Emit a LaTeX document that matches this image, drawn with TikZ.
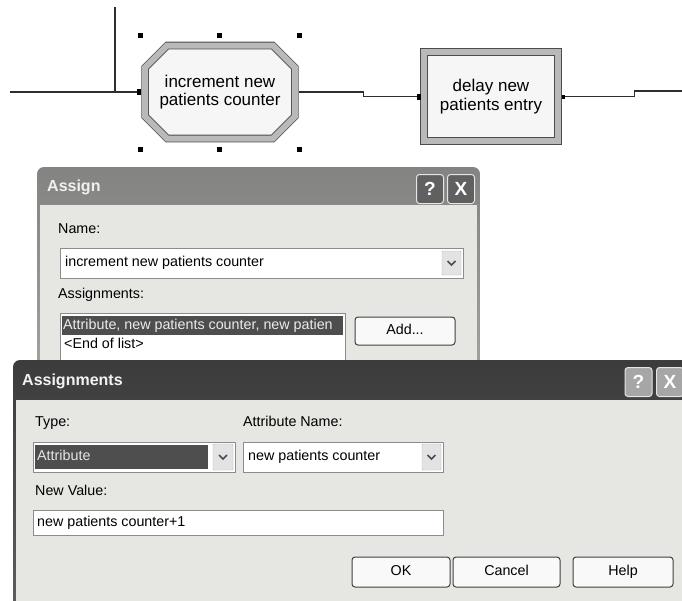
\documentclass[tikz,border=0pt]{standalone}
\usepackage{fontspec}
\setmainfont{Liberation Sans}
\usetikzlibrary{shapes.misc,positioning}
\definecolor{dlgbody}{HTML}{E6E6E2}
\definecolor{dlgedge}{HTML}{8C8C8C}
\definecolor{barlight}{HTML}{A4A4A2}
\definecolor{bardark}{HTML}{464646}
\definecolor{selfill}{HTML}{4E4E4E}
\definecolor{wirecol}{HTML}{2E2E2E}

\tikzset{
  module/.style={draw=black!70, line width=0.8pt, double=gray!55, double distance=6pt,
    fill=white!93!gray, align=center, font=\fontsize{17}{18.5}\selectfont},
  flow/.style={draw=wirecol, line width=1.3pt},
  port/.style={fill=black, inner sep=0pt, minimum width=4pt, minimum height=6pt},
  txt/.style={anchor=west, inner sep=0pt, text height=10.5pt, text depth=3pt,
    font=\fontsize{14.3}{16}\selectfont},
  field/.style={fill=white, draw=dlgedge, line width=0.8pt},
  dropbtn/.style={fill=gray!22, draw=gray!55, rounded corners=1pt},
  btn/.style={draw=black!75, line width=1pt, rounded corners=3pt, fill=white!95!gray,
    text height=10.5pt, text depth=3pt, font=\fontsize{14.3}{16}\selectfont},
  capbtn/.style={draw=white!80!gray, line width=1pt, rounded corners=3pt, fill=gray!75!black,
    text=white, minimum width=27pt, minimum height=29pt, inner sep=0pt,
    font=\bfseries\fontsize{19}{20}\selectfont},
  title/.style={anchor=west, inner sep=0pt, font=\bfseries\fontsize{16}{18}\selectfont}
}

\begin{document}
\begin{tikzpicture}[x=1pt,y=-1pt]
\useasboundingbox (0,0) rectangle (682,600);
\clip (0,0) rectangle (682,600);
\fill[white] (0,0) rectangle (682,600);

% flowchart modules
\node[module, chamfered rectangle, chamfered rectangle sep=11pt,
  minimum width=138pt, minimum height=93pt] (mod1) at (220,92) {increment new\\patients counter};
\node[module, rectangle, minimum width=134pt, minimum height=89pt] (mod2) at (491,96.5) {delay new\\patients entry};

\coordinate (inL) at (10,92);
\coordinate (inTop) at (115,7);
\coordinate (outR) at (682,91);
\draw[flow] (inL) -- ([xshift=-5pt]mod1.west);
\draw[flow] (inTop) -- (inTop |- mod1.west);
\draw[flow] ([xshift=4pt]mod1.east) -- ++(64,0) |- ([xshift=-4pt]mod2.west);
\draw[flow] ([xshift=4pt]mod2.east) -- ++(72,0) |- (outR);
\node[port] (p1) at ([xshift=-6pt]mod1.west) {};
\node[port] (p2) at ([xshift=-5pt]mod2.west) {};
\node[port, minimum width=3pt, minimum height=4pt] (p3) at ([xshift=5pt]mod2.east) {};

% selection handles
\foreach \hx in {140,219,299}
  \foreach \hy in {35,149}
    \fill (\hx-2.5,\hy-2.5) rectangle ++(5,5);

% Assign dialog
\shade[top color=barlight!80!black, bottom color=barlight, rounded corners=7pt]
  (37,167) rectangle (480,390);
\fill[dlgbody] (40,205) rectangle (477,390);
\node[title, text=white!88!gray] (t1) at (47,187) {Assign};
\node[capbtn] (q1) at (430,189) {?};
\node[capbtn] (x1) at (461,189) {X};
\node[txt] (nameL) at (58,230) {Name:};
\draw[field] (60,248) rectangle (463,278);
\node[txt] (nameV) at (65,263) {increment new patients counter};
\draw[dropbtn] (442,251) rectangle (461,275);
\draw[line width=1.6pt, black!70] (447.5,261) -- (451.5,265) -- (455.5,261);
\node[txt] (asgL) at (58,295) {Assignments:};
\draw[field] (60,313) rectangle (345,380);
\fill[selfill] (62,316) rectangle (343,335);
\node[txt, text=white!85!gray] (asg1) at (63,326) {Attribute, new patients counter, new patien};
\node[txt] (asg2) at (64,345) {<End of list>};
\node[btn, minimum width=100pt, minimum height=28pt] (add) at (405,331) {Add...};

% Assignments dialog
\shade[top color=bardark!85!black, bottom color=bardark!85, rounded corners=7pt]
  (13,360) rectangle (720,640);
\fill[dlgbody] (16,400) rectangle (720,640);
\node[title, text=white!90!gray] (t2) at (22,381) {Assignments};
\node[capbtn, fill=gray!70] (q2) at (638.5,382) {?};
\node[capbtn, fill=gray!70] (x2) at (670,382) {X};
\node[txt] (typeL) at (35,423) {Type:};
\node[txt] (attrL) at (243,423) {Attribute Name:};
\draw[field] (33,442) rectangle (235,472);
\fill[selfill] (35,445) rectangle (208,469);
\node[txt, text=white!80!gray] (typeV) at (37,457) {Attribute};
\draw[dropbtn] (213,444) rectangle (233,470);
\draw[line width=1.6pt, black!70] (219,455) -- (223,459) -- (227,455);
\draw[field] (243,442) rectangle (443,472);
\node[txt] (attrV) at (248,457) {new patients counter};
\draw[dropbtn] (422,444) rectangle (441,470);
\draw[line width=1.6pt, black!70] (427.5,455) -- (431.5,459) -- (435.5,455);
\node[txt] (newL) at (35,492) {New Value:};
\draw[field] (33,510) rectangle (443,535);
\node[txt] (newV) at (37,522.5) {new patients counter+1};
\node[btn, minimum width=98pt, minimum height=30pt] (ok) at (401,572) {OK};
\node[btn, minimum width=107pt, minimum height=30pt] (cancel) at (506.5,572) {Cancel};
\node[btn, minimum width=100pt, minimum height=30pt] (help) at (623,572) {Help};
\end{tikzpicture}
\end{document}
